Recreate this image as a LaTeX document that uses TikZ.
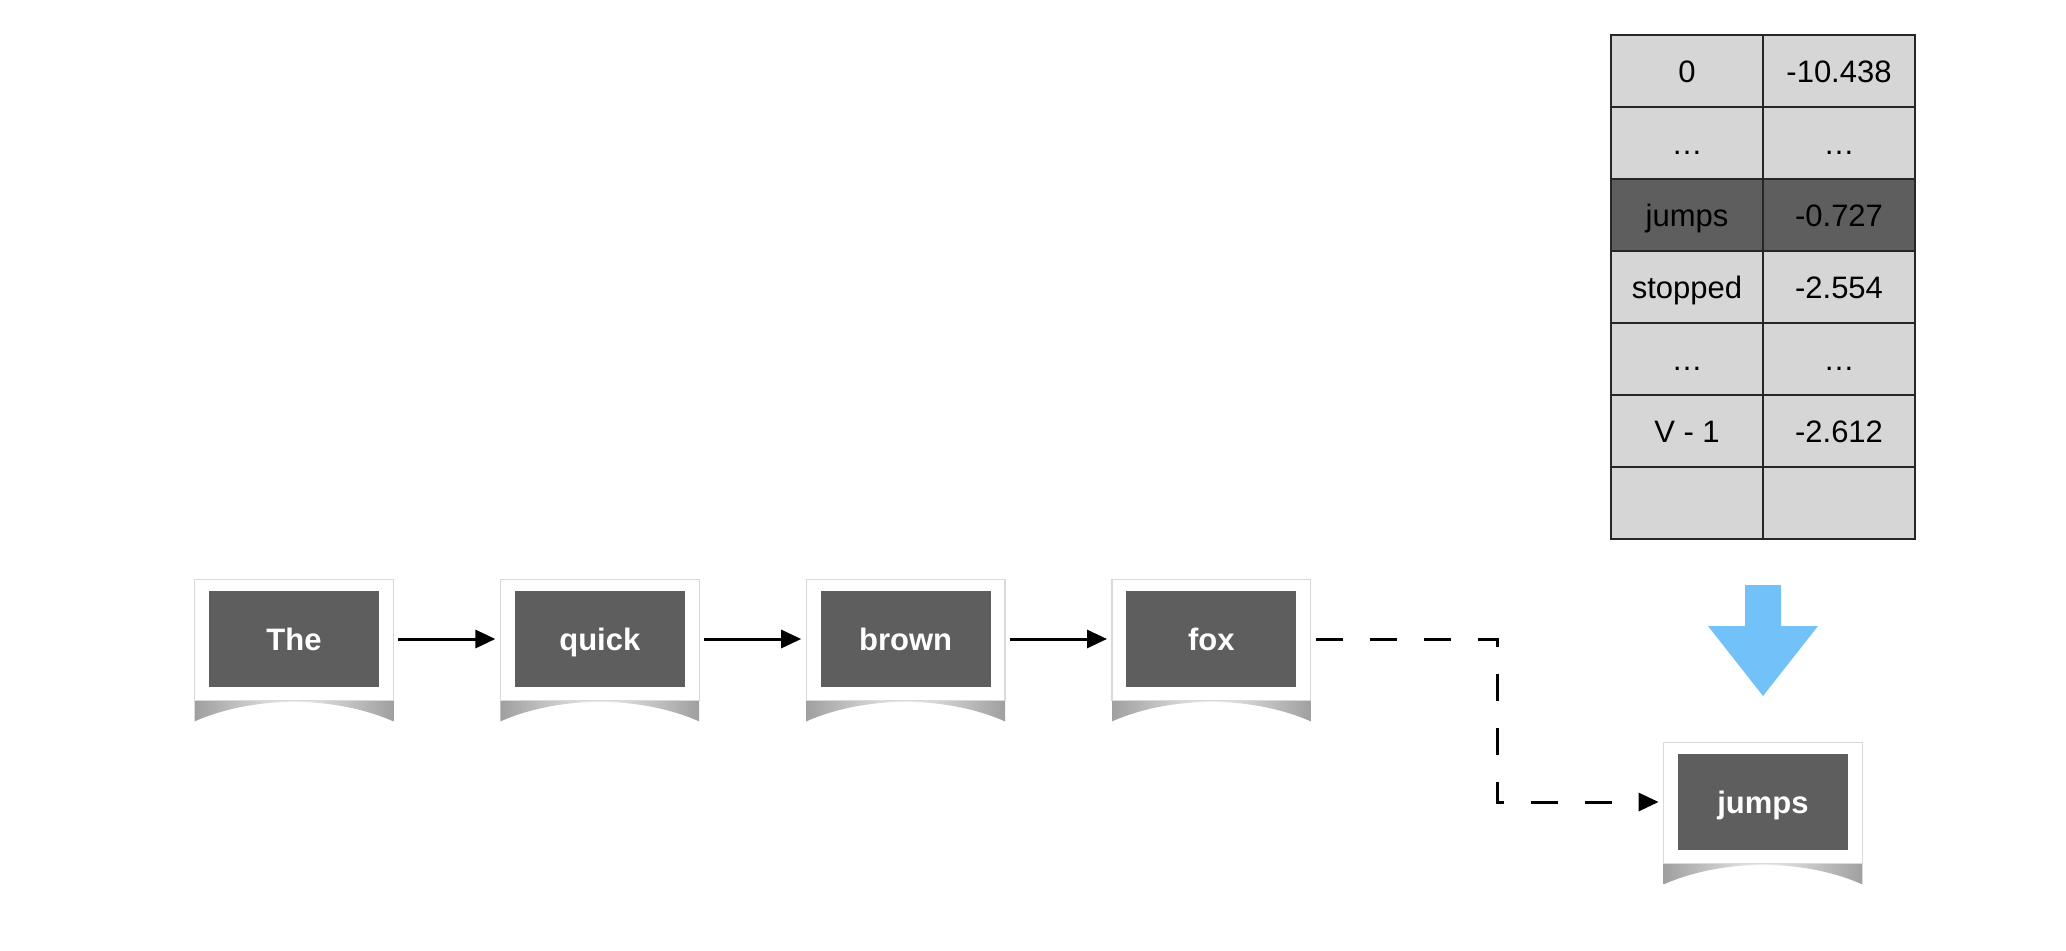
\documentclass[tikz,border=0pt]{standalone}
\usepackage{fontspec}
\setmainfont{Liberation Sans}
\usetikzlibrary{positioning,matrix,calc,arrows.meta,backgrounds}

\definecolor{boxgray}{RGB}{94,94,94}
\definecolor{cellgray}{RGB}{214,214,214}
\definecolor{skyblue}{RGB}{114,194,249}

\tikzset{
  word/.style={fill=boxgray, text=white, font=\fontsize{15.5}{18}\selectfont\bfseries,
    minimum width=85pt, minimum height=48pt, inner sep=0pt,
    text height=11pt, text depth=0pt},
  cell/.style={draw=black!85, fill=cellgray, line width=0.8pt, anchor=center,
    minimum width=76pt, minimum height=36pt, inner sep=0pt,
    text height=11pt, text depth=0pt, font=\fontsize{15.5}{18}\selectfont},
  hicell/.style={fill=boxgray},
  flow/.style={line width=1.5pt, -{Triangle[length=10pt,width=9pt]},
    shorten <=9.5pt, shorten >=9.5pt},
}

% white card with a curled shadow behind a word node
\newcommand{\wordframe}[1]{%
  \shade[left color=gray!75, right color=gray!75, middle color=gray!15]
    ($(#1.south west)+(-14,-13)$) -- ++(0,-21)
    .. controls ($(#1.south west)+(45,-8)$) and ($(#1.south east)+(-45,-8)$)
    .. ($(#1.south east)+(14,-34)$)
    -- ++(0,21) -- cycle;
  \filldraw[fill=white, draw=gray!30, line width=0.6pt]
    ($(#1.south west)+(-14,-13)$) rectangle ($(#1.north east)+(14,11)$);
}

\begin{document}
\begin{tikzpicture}[x=0.5pt, y=0.5pt]
\useasboundingbox (0,0) rectangle (2066,950);

% draw table of scores
\matrix (vocab) [matrix of nodes, nodes={cell}, nodes in empty cells,
  column sep=-0.8pt, row sep=-0.8pt] at (1763,663) {
  0 & -10.438 \\
  \ldots & \ldots \\
  |[hicell]| jumps & |[hicell]| -0.727 \\
  stopped & -2.554 \\
  \ldots & \ldots \\
  V - 1 & -2.612 \\
  & \\
};

% draw blue arrow
\fill[skyblue] (1745,365) -- (1781,365) -- (1781,324) -- (1818,324)
  -- (1763,254) -- (1708,324) -- (1745,324) -- cycle;

% draw words
\node[word] (w1) at (294,311) {The};
\node[word, right=67.5pt of w1] (w2) {quick};
\node[word, right=67.5pt of w2] (w3) {brown};
\node[word, right=67.5pt of w3] (w4) {fox};
\node[word] (pred) at (1763,148) {jumps};

\begin{scope}[on background layer]
  \foreach \w in {w1,w2,w3,w4,pred} {\wordframe{\w}}
\end{scope}

% draw arrows
\foreach \a/\b in {w1/w2,w2/w3,w3/w4}
  \draw[flow] (\a) -- (\b);

\coordinate (turn) at (1497,311);
\draw[flow, dash pattern=on 13.5pt off 13.5pt] (w4) -- (turn) |- (pred);

\end{tikzpicture}
\end{document}
